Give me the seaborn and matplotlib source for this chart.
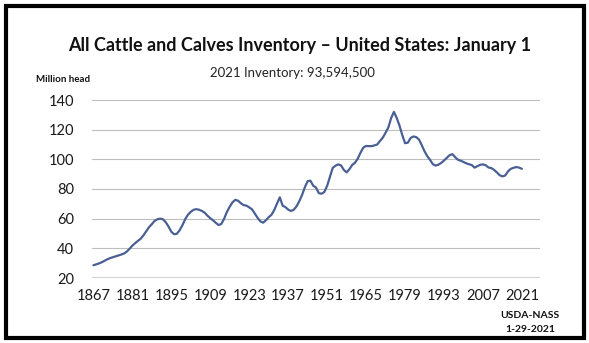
import matplotlib
matplotlib.use("Agg")
import matplotlib.pyplot as plt
from matplotlib.patches import Rectangle
import pandas as pd
import seaborn as sns

# January 1 inventory of all cattle and calves, United States (million head)
years = list(range(1867, 2022))
inventory = [
    28.6, 29.2, 29.8, 30.6, 31.6, 32.6, 33.4, 34.0, 34.6, 35.2,   # 1867-1876
    35.8, 36.5, 37.8, 39.7, 41.8, 43.5, 45.0, 46.5, 48.8, 51.6,   # 1877-1886
    54.3, 56.3, 58.5, 59.6, 60.0, 59.6, 57.6, 54.7, 51.2, 49.5,   # 1887-1896
    49.8, 52.2, 55.6, 59.7, 62.7, 64.6, 66.0, 66.4, 66.0, 65.2,   # 1897-1906
    64.0, 62.0, 60.3, 58.9, 57.2, 55.7, 56.5, 60.0, 64.6, 68.1,   # 1907-1916
    71.0, 72.7, 72.1, 70.4, 69.1, 68.8, 67.6, 66.3, 63.4, 60.6,   # 1917-1926
    58.2, 57.3, 58.9, 61.0, 62.6, 65.8, 70.2, 74.4, 68.8, 67.8,   # 1927-1936
    66.1, 65.2, 66.0, 68.3, 71.8, 76.0, 81.2, 85.3, 85.6, 82.2,   # 1937-1946
    81.0, 77.2, 76.8, 78.0, 82.1, 88.1, 94.2, 95.7, 96.6, 95.9,   # 1947-1956
    92.9, 91.2, 93.3, 96.2, 97.7, 100.4, 104.5, 107.9, 109.0, 108.9,  # 1957-1966
    108.9, 109.4, 110.0, 112.4, 114.6, 117.9, 121.5, 127.8, 132.0, 127.9,  # 1967-1976
    122.8, 116.4, 110.9, 111.2, 114.4, 115.4, 115.0, 113.4, 109.6, 105.4,  # 1977-1986
    102.1, 99.6, 96.7, 95.8, 96.4, 97.6, 99.2, 101.0, 102.8, 103.5,  # 1987-1996
    101.5, 99.7, 99.1, 98.2, 97.3, 96.7, 96.1, 94.4, 95.4, 96.3,   # 1997-2006
    96.6, 96.0, 94.5, 94.1, 92.9, 91.2, 89.3, 88.5, 89.1, 91.9,    # 2007-2016
    93.6, 94.3, 94.8, 94.4, 93.6,                                  # 2017-2021
]
x_ticks = list(range(1867, 2022, 14))
y_ticks = [20, 40, 60, 80, 100, 120, 140]

title = "All Cattle and Calves Inventory \u2013 United States: January 1"
subtitle = "2021 Inventory: 93,594,500"

df = pd.DataFrame({"year": years, "head": inventory})

sns.set_style("white")
plt.rcParams["font.family"] = ["Lato", "DejaVu Sans"]

W, H = 589, 343
fig = plt.figure(figsize=(W / 100, H / 100), dpi=100)
ax = fig.add_axes([92 / W, 1 - 278 / H, (540 - 92) / W, (278 - 100) / H])

sns.lineplot(data=df, x="year", y="head", ax=ax, color="#4a6094",
             linewidth=1.6, zorder=3)

ax.set_xlim(1866.5, 2027.5)
ax.set_ylim(20, 140)
ax.set_xticks(x_ticks)
ax.set_yticks(y_ticks)
ax.set_xlabel("")
ax.set_ylabel("")
for s in ax.spines.values():
    s.set_visible(False)

for v in y_ticks:
    if v == 20:
        ax.axhline(v, color="#d4d4d4", linewidth=1.6, zorder=1)
    else:
        ax.axhline(v, color="#bdbdbd", linewidth=0.8, zorder=1)

ax.tick_params(axis="both", length=0, labelsize=10.5, colors="#1a1a1a")
ax.tick_params(axis="y", pad=13)
ax.tick_params(axis="x", pad=8)

fig.text(300 / W, 1 - 46 / H, title, ha="center", va="center",
         fontsize=13, fontweight="bold", color="#111111")
fig.text(292 / W, 1 - 73 / H, subtitle, ha="center", va="center",
         fontsize=9.5, color="#222222")
fig.text(36 / W, 1 - 80 / H, "Million head", ha="left", va="center",
         fontsize=7, fontweight="bold", color="#111111")
fig.text(530 / W, 1 - 316 / H, "USDA-NASS", ha="center", va="center",
         fontsize=7.5, fontweight="bold", color="#111111")
fig.text(530 / W, 1 - 329 / H, "1-29-2021", ha="center", va="center",
         fontsize=7.5, fontweight="bold", color="#111111")

# outer frame
fig.patches.append(Rectangle((6 / W, 1 - 338 / H), (584 - 6) / W, (338 - 6) / H,
                             transform=fig.transFigure, fill=False,
                             edgecolor="black", linewidth=3))

fig.savefig("out.png", dpi=100, facecolor="white")
